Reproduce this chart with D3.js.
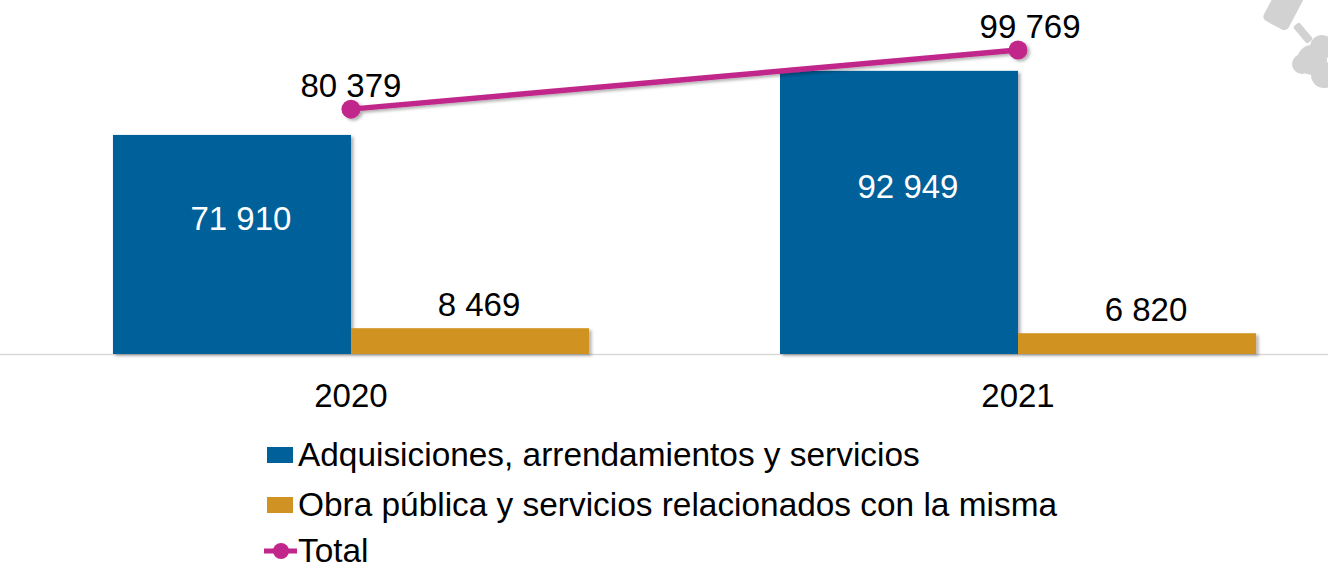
<!DOCTYPE html>
<html>
<head>
<meta charset="utf-8">
<script src="https://cdn.jsdelivr.net/npm/d3@7"></script>
<style>
  html, body { margin: 0; padding: 0; background: #ffffff; }
  svg { display: block; font-family: "Liberation Sans", Arial, sans-serif; }
</style>
</head>
<body>
<svg id="chart" width="1328" height="569"></svg>
<script>
// Contract amounts by year
const years = ["2020", "2021"];
const adquisiciones = [71910, 92949];
const obraPublica = [8469, 6820];
const totals = [80379, 99769];
const seriesNames = [
  "Adquisiciones, arrendamientos y servicios",
  "Obra pública y servicios relacionados con la misma",
  "Total"
];

const colors = { adq: "#00609A", obra: "#D09323", total: "#C1278A" };
const fmt = v => d3.format(",")(v).replace(/,/g, " ");

const svg = d3.select("#chart");
const defs = svg.append("defs");
defs.append("filter").attr("id", "shadow")
  .attr("x", "-10%").attr("y", "-10%").attr("width", "130%").attr("height", "130%")
  .append("feDropShadow")
  .attr("dx", 2.5).attr("dy", 2).attr("stdDeviation", 1.6)
  .attr("flood-color", "#000").attr("flood-opacity", 0.3);

// Scales
const baseY = 354;
const y = d3.scaleLinear().domain([0, 116200]).range([baseY, 0]);
const x = d3.scaleBand().domain(years).range([17.5, 1351.5])
  .paddingInner(0.2863).paddingOuter(0.1431);
const inner = d3.scaleBand().domain(["adq", "obra"]).range([0, x.bandwidth()]);

// Decorative logo fragment, top right
const deco = svg.append("g").attr("fill", "#d2d2d2");
deco.append("rect")
  .attr("x", -14).attr("y", -32).attr("width", 28).attr("height", 64).attr("rx", 5)
  .attr("transform", "translate(1289,-3) rotate(28)");
deco.append("rect")
  .attr("x", -4).attr("y", -11).attr("width", 8).attr("height", 22).attr("rx", 2)
  .attr("transform", "translate(1303,33) rotate(-40)");
deco.append("circle").attr("cx", 1312).attr("cy", 60).attr("r", 15);
deco.append("circle").attr("cx", 1322).attr("cy", 47).attr("r", 12);
deco.append("circle").attr("cx", 1302).attr("cy", 64).attr("r", 10);
deco.append("circle").attr("cx", 1324).attr("cy", 75).attr("r", 13);

// Baseline
svg.append("line")
  .attr("x1", 0).attr("x2", 1328).attr("y1", baseY + 0.5).attr("y2", baseY + 0.5)
  .attr("stroke", "#d9d9d9").attr("stroke-width", 1.5);

// Bars
const groups = svg.append("g").selectAll("g").data(years).join("g")
  .attr("transform", d => `translate(${x(d)},0)`);

groups.append("rect")
  .attr("x", inner("adq")).attr("width", inner.bandwidth())
  .attr("y", (d, i) => y(adquisiciones[i]))
  .attr("height", (d, i) => baseY - y(adquisiciones[i]))
  .attr("fill", colors.adq).attr("filter", "url(#shadow)");

groups.append("rect")
  .attr("x", inner("obra")).attr("width", inner.bandwidth())
  .attr("y", (d, i) => y(obraPublica[i]))
  .attr("height", (d, i) => baseY - y(obraPublica[i]))
  .attr("fill", colors.obra).attr("filter", "url(#shadow)");

// Bar value labels
groups.append("text")
  .attr("x", inner("adq") + inner.bandwidth() / 2 + 9)
  .attr("y", (d, i) => y(adquisiciones[i] / 2) - 14)
  .attr("text-anchor", "middle").attr("font-size", 33).attr("fill", "#fff")
  .text((d, i) => fmt(adquisiciones[i]));

groups.append("text")
  .attr("x", inner("obra") + inner.bandwidth() / 2 + 9)
  .attr("y", (d, i) => y(obraPublica[i]) - 12)
  .attr("text-anchor", "middle").attr("font-size", 33).attr("fill", "#000")
  .text((d, i) => fmt(obraPublica[i]));

// Category axis labels
svg.append("g").selectAll("text").data(years).join("text")
  .attr("x", d => x(d) + x.bandwidth() / 2)
  .attr("y", 407)
  .attr("text-anchor", "middle").attr("font-size", 33).attr("fill", "#000")
  .text(d => d);

// Total line
const cx = d => x(d) + x.bandwidth() / 2;
const line = d3.line().x((d, i) => cx(years[i])).y(d => y(d));
const tg = svg.append("g").attr("filter", "url(#shadow)");
tg.append("path").datum(totals).attr("d", line)
  .attr("fill", "none").attr("stroke", colors.total).attr("stroke-width", 5.5);
tg.selectAll("circle").data(totals).join("circle")
  .attr("cx", (d, i) => cx(years[i])).attr("cy", d => y(d)).attr("r", 9.5)
  .attr("fill", colors.total);

svg.append("g").selectAll("text").data(totals).join("text")
  .attr("x", (d, i) => cx(years[i]) + i * 12)
  .attr("y", d => y(d) - 12)
  .attr("text-anchor", "middle").attr("font-size", 33).attr("fill", "#000")
  .text(d => fmt(d));

// Legend
const legend = svg.append("g");
const rows = [455, 505, 551];
legend.append("rect").attr("x", 267).attr("y", rows[0] - 8).attr("width", 26).attr("height", 16)
  .attr("fill", colors.adq);
legend.append("rect").attr("x", 267).attr("y", rows[1] - 8).attr("width", 26).attr("height", 16)
  .attr("fill", colors.obra);
legend.append("line").attr("x1", 264).attr("x2", 297).attr("y1", rows[2]).attr("y2", rows[2])
  .attr("stroke", colors.total).attr("stroke-width", 5);
legend.append("circle").attr("cx", 281).attr("cy", rows[2]).attr("r", 8).attr("fill", colors.total);
legend.selectAll("text").data(seriesNames).join("text")
  .attr("x", 298).attr("y", (d, i) => rows[i] + 11)
  .attr("font-size", 33.4).attr("fill", "#000")
  .text(d => d);
</script>
</body>
</html>
